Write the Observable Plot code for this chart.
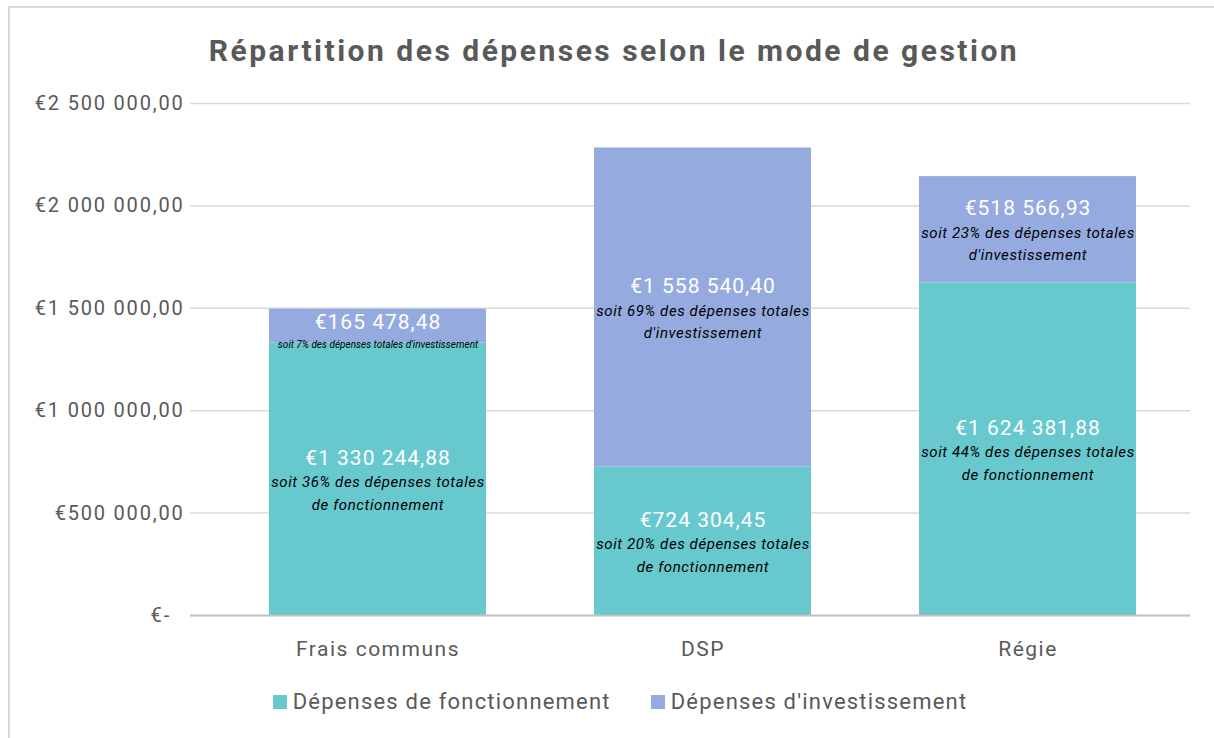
<!DOCTYPE html>
<html>
<head>
<meta charset="utf-8">
<script src="https://cdn.jsdelivr.net/npm/d3@7"></script>
<script src="https://cdn.jsdelivr.net/npm/@observablehq/plot@0.6"></script>
<style>
  html, body { margin: 0; padding: 0; background: #fff; }
  body { position: relative; width: 1214px; height: 738px; overflow: hidden; font-family: Roboto, "Noto Sans", sans-serif; }
  #frame { position: absolute; left: 8px; top: 6px; width: 1220px; height: 760px; border-left: 2px solid #d9d9d9; border-top: 2px solid #d9d9d9; box-sizing: border-box; }
  #title { position: absolute; left: 0; width: 1228px; top: 33px; text-align: center; font-size: 30px; font-weight: bold; color: #595959; letter-spacing: 2.5px; }
  #chart { position: absolute; left: 0; top: 0; }
  #legend { position: absolute; left: 0; width: 1240px; top: 689px; display: flex; justify-content: center; gap: 40px; font-size: 22px; color: #595959; letter-spacing: 1.2px; }
  .item { display: flex; align-items: center; gap: 6px; }
  .sw { width: 14px; height: 14px; display: inline-block; }
  g[aria-label="y-axis tick label"] text { letter-spacing: 1.8px; }
  g[aria-label="x-axis tick label"] text { letter-spacing: 1.5px; }
  .vlab text { letter-spacing: 1px; }
  .slab text { letter-spacing: 0.6px; }
</style>
</head>
<body>
<div id="frame"></div>
<div id="chart"></div>
<div id="title">Répartition des dépenses selon le mode de gestion</div>
<div id="legend"></div>
<script>
const categories = ["Frais communs", "DSP", "Régie"];
const series = ["Dépenses de fonctionnement", "Dépenses d'investissement"];
const fonctionnement = [1330244.88, 724304.45, 1624381.88];
const investissement = [165478.48, 1558540.40, 518566.93];
const fonctPct = [36, 20, 44];
const investPct = [7, 69, 23];
const yTicks = [0, 500000, 1000000, 1500000, 2000000, 2500000];
const colors = ["#67c9ce", "#95abe0"];

const locale = d3.formatLocale({decimal: ",", thousands: " ", grouping: [3], currency: ["€", ""]});
const fmt = locale.format("$,.2f");
const tickFmt = v => v === 0 ? "€-\u00a0\u00a0" : fmt(v);

const rows = [];
categories.forEach((c, i) => {
  rows.push({cat: c, serie: series[0], value: fonctionnement[i], pct: fonctPct[i], kind: "de fonctionnement"});
  rows.push({cat: c, serie: series[1], value: investissement[i], pct: investPct[i], kind: "d'investissement"});
});
const big = d => d.value > 300000;

const chart = Plot.plot({
  width: 1214,
  height: 738,
  marginTop: 103,
  marginBottom: 123,
  marginLeft: 190,
  marginRight: 24,
  style: {fontFamily: "Roboto, 'Noto Sans', sans-serif", background: "transparent"},
  x: {domain: categories, paddingInner: 0.333, paddingOuter: 0.1665, insetLeft: 25, label: null},
  y: {domain: [0, 2500000], label: null},
  color: {domain: series, range: colors},
  marks: [
    Plot.gridY(yTicks, {stroke: "#d9d9d9", strokeWidth: 1.5, strokeOpacity: 1}),
    Plot.barY(rows, {x: "cat", y: "value", fill: "serie"}),
    Plot.ruleY([0], {stroke: "#c4c4c4", strokeWidth: 2}),
    Plot.axisY({ticks: yTicks, tickFormat: tickFmt, tickSize: 0, tickPadding: 6, fontSize: 20, color: "#595959"}),
    Plot.axisX({tickSize: 0, tickPadding: 26, fontSize: 21, color: "#595959"}),
    // value labels
    Plot.text(rows, Plot.stackY({x: "cat", y: "value", z: "serie", className: "vlab",
      text: d => big(d) ? fmt(d.value) : null, dy: -21, fill: "white", fontSize: 21})),
    Plot.text(rows, Plot.stackY({x: "cat", y: "value", z: "serie", className: "vlab",
      text: d => big(d) ? null : fmt(d.value), dy: -4, fill: "white", fontSize: 21})),
    // subtitles
    Plot.text(rows, Plot.stackY({x: "cat", y: "value", z: "serie", className: "slab",
      text: d => big(d) ? `soit ${d.pct}% des dépenses totales\n${d.kind}` : null,
      dy: 12, lineHeight: 1.5, fill: "black", fontSize: 15, fontStyle: "italic"})),
    Plot.text(rows, Plot.stackY({x: "cat", y: "value", z: "serie",
      text: d => big(d) ? null : `soit ${d.pct}% des dépenses totales ${d.kind}`,
      dy: 19, fill: "black", fontSize: 10, fontStyle: "italic"}))
  ]
});
document.getElementById("chart").appendChild(chart);

const legend = document.getElementById("legend");
series.forEach((s, i) => {
  const item = document.createElement("div");
  item.className = "item";
  const sw = document.createElement("span");
  sw.className = "sw";
  sw.style.background = colors[i];
  const t = document.createElement("span");
  t.textContent = s;
  item.appendChild(sw);
  item.appendChild(t);
  legend.appendChild(item);
});
</script>
</body>
</html>
